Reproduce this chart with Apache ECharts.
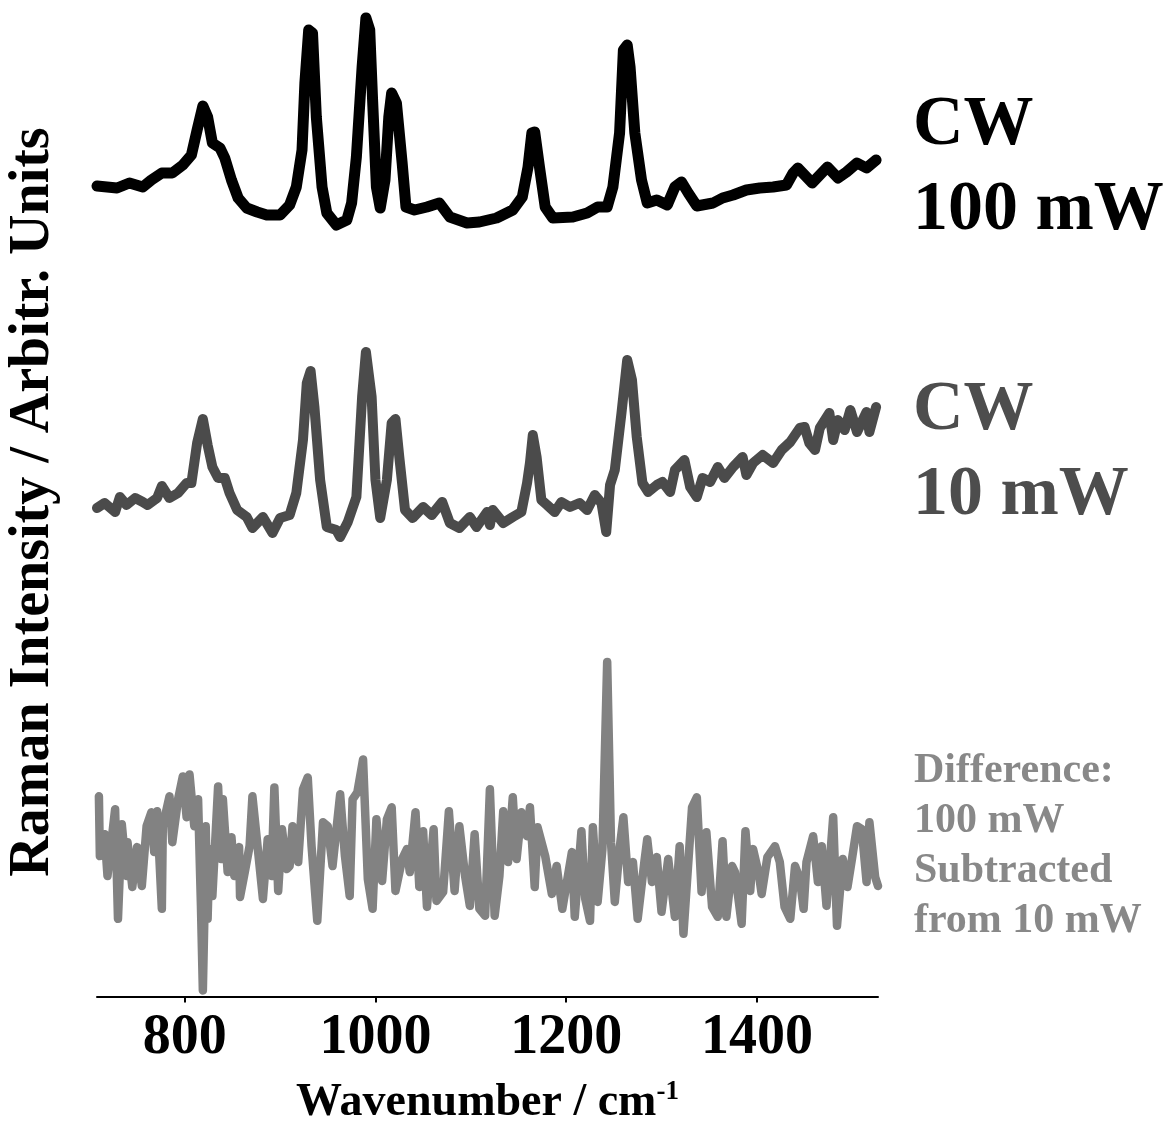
<!DOCTYPE html>
<html>
<head>
<meta charset="utf-8">
<title>Raman spectra CW</title>
<script src="https://cdn.jsdelivr.net/npm/echarts@6/dist/echarts.min.js"></script>
<style>
  html, body { margin: 0; padding: 0; background: #fff; }
  #chart { width: 1169px; height: 1127px; }
</style>
</head>
<body>
<div id="chart"></div>
<script>
// wavenumber range (cm-1) and tick labels
const xRange = [708, 1527]
const tickValues = [800, 1000, 1200, 1400]

// [wavenumber, intensity] - CW 100 mW
const cw100 = [[708, 54], [729, 52], [742, 57], [756, 53], [765, 60], [776, 67], [787, 67], [798, 75], [807, 85], [813, 110],
  [819, 134], [824, 123], [829, 97], [837, 92], [842, 82], [849, 60], [856, 42], [865, 32], [876, 28], [886, 25], [900, 25],
  [910, 35], [917, 53], [923, 90], [926, 157], [930, 210], [934, 207], [938, 123], [944, 53], [949, 27], [959, 15], [970, 20],
  [975, 37], [980, 83], [986, 173], [990, 222], [994, 210], [997, 140], [1001, 53], [1005, 32], [1010, 60], [1014, 123],
  [1017, 147], [1022, 137], [1028, 77], [1032, 33], [1041, 30], [1054, 33], [1067, 37], [1078, 23], [1096, 17], [1109, 18],
  [1127, 22], [1144, 30], [1154, 43], [1160, 73], [1164, 107], [1167, 108], [1172, 73], [1178, 33], [1186, 22], [1207, 23],
  [1222, 27], [1233, 33], [1243, 33], [1249, 53], [1256, 107], [1260, 190], [1264, 195], [1267, 173], [1272, 107], [1279, 60],
  [1285, 37], [1295, 40], [1306, 35], [1314, 53], [1321, 58], [1328, 47], [1337, 34], [1354, 37], [1364, 42], [1375, 45],
  [1389, 50], [1403, 52], [1417, 53], [1431, 55], [1438, 67], [1443, 72], [1450, 65], [1458, 57], [1466, 65], [1474, 73],
  [1485, 62], [1494, 68], [1505, 77], [1515, 72], [1525, 80]]

// [wavenumber, intensity] - CW 10 mW
const cw10 = [[708, 42], [716, 47], [727, 38], [732, 53], [739, 45], [748, 52], [756, 48], [761, 45], [771, 52], [776, 64],
  [784, 52], [793, 57], [802, 67], [807, 67], [810, 87], [813, 107], [819, 131], [824, 105], [829, 83], [835, 72], [842, 72],
  [847, 57], [855, 40], [865, 33], [871, 22], [882, 33], [892, 17], [900, 32], [910, 35], [917, 57], [924, 110], [928, 167],
  [932, 179], [936, 143], [942, 70], [949, 23], [959, 20], [963, 13], [971, 28], [980, 53], [986, 153], [990, 198], [996, 153],
  [1000, 70], [1005, 32], [1012, 70], [1017, 127], [1021, 131], [1025, 93], [1031, 40], [1039, 32], [1050, 43], [1059, 35],
  [1070, 48], [1078, 27], [1088, 22], [1099, 33], [1106, 23], [1117, 38], [1120, 25], [1123, 40], [1134, 27], [1144, 33],
  [1153, 38], [1159, 67], [1162, 87], [1165, 115], [1169, 93], [1174, 50], [1180, 45], [1188, 38], [1195, 48], [1204, 43],
  [1214, 47], [1222, 40], [1230, 55], [1237, 47], [1242, 18], [1246, 65], [1251, 80], [1258, 137], [1264, 190], [1269, 170],
  [1274, 113], [1280, 67], [1286, 58], [1295, 65], [1301, 68], [1309, 58], [1314, 80], [1324, 90], [1330, 63], [1337, 53],
  [1343, 72], [1351, 68], [1359, 83], [1366, 72], [1375, 83], [1385, 93], [1389, 75], [1396, 87], [1406, 95], [1417, 87],
  [1426, 100], [1435, 108], [1445, 122], [1450, 123], [1455, 107], [1461, 100], [1466, 122], [1476, 137], [1480, 110],
  [1485, 130], [1492, 120], [1498, 140], [1505, 118], [1515, 138], [1518, 118], [1525, 143]]

// [wavenumber, intensity] - difference 100 mW subtracted from 10 mW
const diff = [[710, 201], [711, 141], [716, 163], [719, 121], [727, 188], [730, 78], [734, 173], [739, 121], [740, 155],
  [745, 110], [750, 150], [755, 111], [760, 171], [765, 185], [768, 145], [771, 186], [776, 88], [777, 171], [784, 201],
  [787, 155], [793, 198], [798, 221], [802, 180], [805, 223], [810, 171], [814, 198], [817, 91], [819, 6], [821, 98],
  [822, 171], [824, 78], [826, 148], [829, 101], [835, 211], [838, 138], [840, 198], [845, 125], [849, 160], [852, 121],
  [857, 150], [858, 100], [863, 125], [868, 151], [871, 201], [877, 145], [882, 98], [887, 158], [891, 121], [894, 210],
  [898, 106], [902, 168], [907, 128], [910, 131], [913, 171], [919, 135], [924, 208], [929, 220], [933, 151], [939, 76],
  [945, 175], [950, 171], [955, 131], [963, 203], [968, 141], [973, 101], [976, 198], [981, 205], [987, 238], [992, 118],
  [997, 88], [1001, 178], [1007, 116], [1012, 178], [1017, 190], [1021, 106], [1028, 138], [1033, 148], [1036, 125],
  [1042, 185], [1046, 110], [1050, 166], [1054, 90], [1061, 168], [1064, 96], [1071, 105], [1077, 186], [1083, 106],
  [1088, 171], [1094, 121], [1099, 91], [1104, 163], [1109, 88], [1115, 81], [1120, 208], [1125, 81], [1130, 121],
  [1134, 186], [1139, 135], [1144, 200], [1148, 138], [1153, 185], [1159, 161], [1162, 190], [1167, 110], [1170, 170],
  [1178, 141], [1185, 103], [1190, 131], [1196, 88], [1206, 145], [1209, 80], [1216, 166], [1220, 98], [1225, 76],
  [1228, 170], [1233, 95], [1238, 148], [1243, 336], [1247, 155], [1251, 95], [1256, 148], [1260, 180], [1265, 115],
  [1270, 135], [1275, 78], [1282, 135], [1285, 158], [1290, 115], [1295, 140], [1300, 85], [1307, 138], [1314, 80],
  [1319, 151], [1323, 63], [1332, 190], [1337, 200], [1342, 105], [1347, 165], [1353, 90], [1359, 80], [1364, 156],
  [1368, 80], [1374, 131], [1377, 125], [1384, 73], [1388, 166], [1393, 106], [1396, 148], [1402, 123], [1405, 103],
  [1411, 140], [1419, 151], [1424, 135], [1429, 90], [1435, 78], [1440, 131], [1445, 118], [1449, 88], [1452, 135],
  [1459, 161], [1464, 115], [1468, 151], [1473, 91], [1480, 180], [1484, 71], [1490, 138], [1495, 110], [1500, 140],
  [1505, 171], [1510, 168], [1515, 115], [1518, 175], [1524, 120], [1527, 111]]

const serif = "'Times New Roman', 'Liberation Serif', serif"

const chart = echarts.init(document.getElementById('chart'))

function hiddenX(idx) {
  return { type: 'value', gridIndex: idx, min: xRange[0], max: xRange[1], show: false }
}
function hiddenY(idx, max) {
  return { type: 'value', gridIndex: idx, min: 0, max: max, show: false }
}
function spectrum(idx, data, color, width) {
  return {
    type: 'line',
    xAxisIndex: idx,
    yAxisIndex: idx,
    data: data,
    symbol: 'none',
    clip: false,
    lineStyle: { color: color, width: width, cap: 'round', join: 'round' }
  }
}

chart.setOption({
  animation: false,
  backgroundColor: '#fff',
  grid: [
    { left: 97, right: 291, top: 0, height: 240 },
    { left: 97, right: 291, top: 330, height: 220 },
    { left: 97, right: 291, top: 640, height: 358 }
  ],
  xAxis: [
    hiddenX(0),
    hiddenX(1),
    {
      type: 'value',
      gridIndex: 2,
      min: xRange[0],
      max: xRange[1],
      splitLine: { show: false },
      axisLine: { show: true, lineStyle: { color: '#000', width: 2 } },
      axisTick: { show: true, customValues: tickValues, length: 6, lineStyle: { color: '#000', width: 2 } },
      axisLabel: {
        customValues: tickValues,
        formatter: (v) => String(v),
        margin: 14,
        color: '#000',
        fontFamily: serif,
        fontWeight: 'bold',
        fontSize: 56
      },
      name: '{a|Wavenumber / cm}{s|-1}',
      nameLocation: 'middle',
      nameGap: 82,
      nameTextStyle: {
        rich: {
          a: { fontFamily: serif, fontWeight: 'bold', fontSize: 46, color: '#000' },
          s: { fontFamily: serif, fontWeight: 'bold', fontSize: 27, color: '#000', verticalAlign: 'top', padding: [0, 0, 22, 0] }
        }
      }
    }
  ],
  yAxis: [hiddenY(0, 240), hiddenY(1, 220), hiddenY(2, 358)],
  series: [
    spectrum(0, cw100, '#000000', 11),
    spectrum(1, cw10, '#4b4b4b', 10),
    spectrum(2, diff, '#828282', 8.5)
  ],
  graphic: [
    {
      type: 'text',
      x: 34,
      y: 502,
      rotation: Math.PI / 2,
      style: {
        text: 'Raman Intensity / Arbitr. Units',
        fontFamily: serif,
        fontWeight: 'bold',
        fontSize: 56,
        fill: '#000',
        align: 'center',
        verticalAlign: 'middle'
      }
    },
    {
      type: 'text',
      left: 913,
      top: 83,
      style: { text: 'CW\n100 mW', fontFamily: serif, fontWeight: 'bold', fontSize: 70, lineHeight: 85, fill: '#000' }
    },
    {
      type: 'text',
      left: 913,
      top: 368,
      style: { text: 'CW\n10 mW', fontFamily: serif, fontWeight: 'bold', fontSize: 70, lineHeight: 85, fill: '#4d4d4d' }
    },
    {
      type: 'text',
      left: 914,
      top: 746,
      style: {
        text: 'Difference:\n100 mW\nSubtracted\nfrom 10 mW',
        fontFamily: serif,
        fontWeight: 'bold',
        fontSize: 42,
        lineHeight: 50,
        fill: '#888'
      }
    }
  ]
})
</script>
</body>
</html>
